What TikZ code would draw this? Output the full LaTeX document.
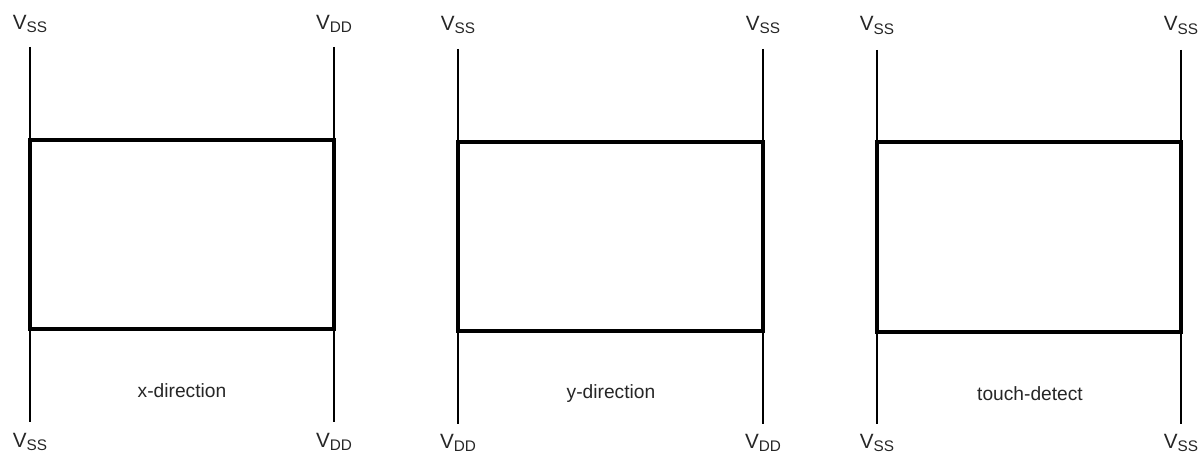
\documentclass[tikz,border=0pt]{standalone}
\usepackage{fontspec}
\setmainfont{Liberation Sans}
\newcommand{\railV}[1]{V\raisebox{-2.3pt}{\fontsize{11.5}{12}\selectfont #1}}
\begin{document}
\begin{tikzpicture}[x=0.75pt, y=-0.75pt]
    \tikzset{
        rail/.style={draw=black, line width=1pt},
        plate/.style={draw=black, line width=2.6pt},
        railname/.style={font=\fontsize{15.5}{18}\selectfont, text=black!85, inner sep=0pt, anchor=base},
        caption/.style={font=\fontsize{14.4}{17}\selectfont, text=black!85, inner sep=0pt, anchor=base}
    }
    \useasboundingbox (0,0) rectangle (1203,453);

    % x-direction
    \coordinate (xnw) at (30,140);
    \coordinate (xne) at (334,140);
    \coordinate (xsw) at (30,329);
    \coordinate (xse) at (334,329);
    \coordinate (xtopl) at (30,47);
    \coordinate (xtopr) at (334,47);
    \coordinate (xbotl) at (30,422);
    \coordinate (xbotr) at (334,422);
    \draw[rail] (xtopl) -- (xnw) (xtopr) -- (xne) (xsw) -- (xbotl) (xse) -- (xbotr);
    \draw[plate] (xnw) rectangle (xse);
    \node[railname] (xvtl) at (30,29.5) {\railV{SS}};
    \node[railname] (xvtr) at (334,29.5) {\railV{DD}};
    \node[railname] (xvbl) at (30,447) {\railV{SS}};
    \node[railname] (xvbr) at (334,447) {\railV{DD}};
    \node[caption] (xcap) at (182,397) {x-direction};

    % y-direction
    \coordinate (ynw) at (458,142);
    \coordinate (yne) at (763,142);
    \coordinate (ysw) at (458,331);
    \coordinate (yse) at (763,331);
    \coordinate (ytopl) at (458,49);
    \coordinate (ytopr) at (763,49);
    \coordinate (ybotl) at (458,424);
    \coordinate (ybotr) at (763,424);
    \draw[rail] (ytopl) -- (ynw) (ytopr) -- (yne) (ysw) -- (ybotl) (yse) -- (ybotr);
    \draw[plate] (ynw) rectangle (yse);
    \node[railname] (yvtl) at (458,30.5) {\railV{SS}};
    \node[railname] (yvtr) at (763,30.5) {\railV{SS}};
    \node[railname] (yvbl) at (458,448) {\railV{DD}};
    \node[railname] (yvbr) at (763,448) {\railV{DD}};
    \node[caption] (ycap) at (611,398) {y-direction};

    % touch-detect
    \coordinate (tnw) at (877,142);
    \coordinate (tne) at (1181,142);
    \coordinate (tsw) at (877,332);
    \coordinate (tse) at (1181,332);
    \coordinate (ttopl) at (877,50);
    \coordinate (ttopr) at (1181,50);
    \coordinate (tbotl) at (877,424);
    \coordinate (tbotr) at (1181,424);
    \draw[rail] (ttopl) -- (tnw) (ttopr) -- (tne) (tsw) -- (tbotl) (tse) -- (tbotr);
    \draw[plate] (tnw) rectangle (tse);
    \node[railname] (tvtl) at (877,31) {\railV{SS}};
    \node[railname] (tvtr) at (1181,31) {\railV{SS}};
    \node[railname] (tvbl) at (877,448) {\railV{SS}};
    \node[railname] (tvbr) at (1181,448) {\railV{SS}};
    \node[caption] (tcap) at (1030,400) {touch-detect};
\end{tikzpicture}
\end{document}
